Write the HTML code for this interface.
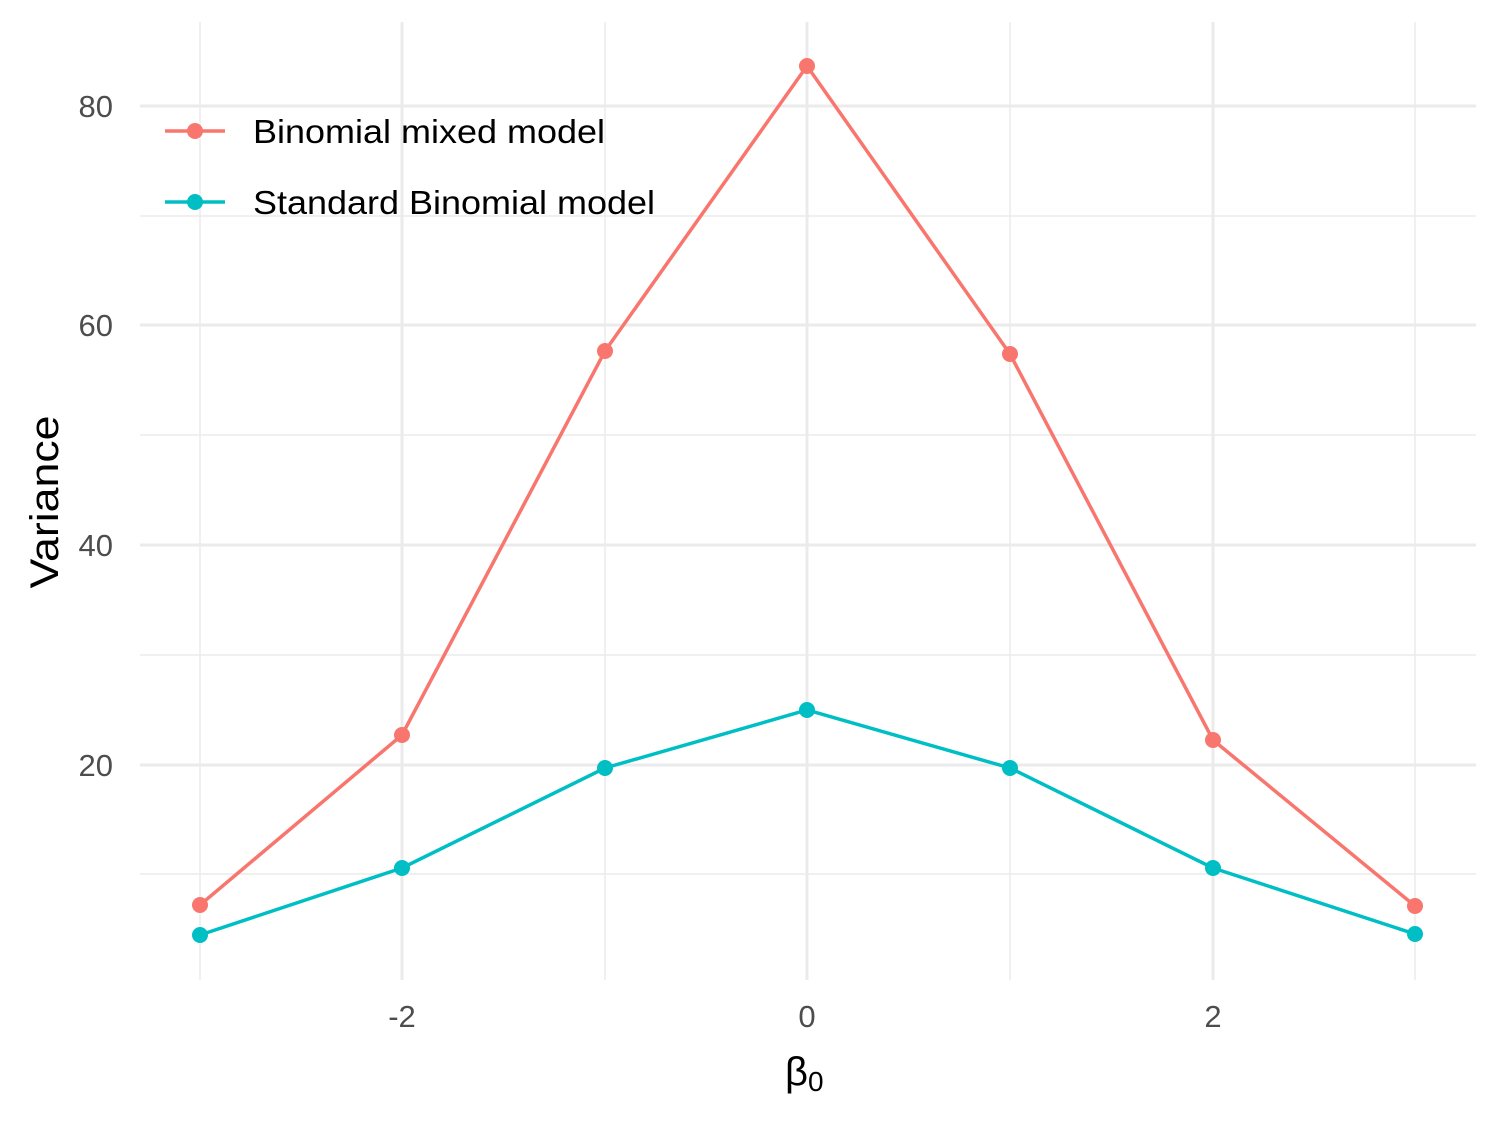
<!DOCTYPE html>
<html><head><meta charset="utf-8"><style>body{margin:0;background:#fff}</style></head><body>
<svg width="1500" height="1125" xmlns="http://www.w3.org/2000/svg" font-family="Liberation Sans, sans-serif">
<g stroke="#ebebeb" stroke-width="1.5">
<line x1="140" x2="1476" y1="216" y2="216"/><line x1="140" x2="1476" y1="435" y2="435"/>
<line x1="140" x2="1476" y1="655" y2="655"/><line x1="140" x2="1476" y1="874" y2="874"/>
<line x1="605" x2="605" y1="22" y2="980"/><line x1="1010" x2="1010" y1="22" y2="980"/>
<line x1="200" x2="200" y1="22" y2="980"/><line x1="1415" x2="1415" y1="22" y2="980"/>
</g>
<g stroke="#ebebeb" stroke-width="3">
<line x1="140" x2="1476" y1="106" y2="106"/><line x1="140" x2="1476" y1="325" y2="325"/>
<line x1="140" x2="1476" y1="545" y2="545"/><line x1="140" x2="1476" y1="765" y2="765"/>
<line x1="402" x2="402" y1="22" y2="980"/><line x1="807" x2="807" y1="22" y2="980"/><line x1="1213" x2="1213" y1="22" y2="980"/>
</g>
<polyline fill="none" stroke="#f8766d" stroke-width="3.5" points="200,905 402,735 605,351 807,66 1010,354 1213,740 1415,906"/>
<polyline fill="none" stroke="#00bfc4" stroke-width="3.5" points="200,935 402,868 605,768 807,710 1010,768 1213,868 1415,934"/>
<g fill="#f8766d"><circle cx="200" cy="905" r="8"/><circle cx="402" cy="735" r="8"/><circle cx="605" cy="351" r="8"/><circle cx="807" cy="66" r="8"/><circle cx="1010" cy="354" r="8"/><circle cx="1213" cy="740" r="8"/><circle cx="1415" cy="906" r="8"/></g>
<g fill="#00bfc4"><circle cx="200" cy="935" r="8"/><circle cx="402" cy="868" r="8"/><circle cx="605" cy="768" r="8"/><circle cx="807" cy="710" r="8"/><circle cx="1010" cy="768" r="8"/><circle cx="1213" cy="868" r="8"/><circle cx="1415" cy="934" r="8"/></g>
<g font-size="31" fill="#4d4d4d" text-anchor="end">
<text x="113" y="117">80</text><text x="113" y="336">60</text><text x="113" y="556">40</text><text x="113" y="776">20</text>
</g>
<g font-size="31" fill="#4d4d4d" text-anchor="middle">
<text x="402" y="1027">-2</text><text x="807" y="1027">0</text><text x="1213" y="1027">2</text>
</g>
<text x="785" y="1085" font-size="40">β<tspan font-size="28" dy="6">0</tspan></text>
<text transform="translate(58,502) rotate(-90)" font-size="40" text-anchor="middle" textLength="173" lengthAdjust="spacingAndGlyphs">Variance</text>
<line x1="165" x2="225" y1="131" y2="131" stroke="#f8766d" stroke-width="3.5"/><circle cx="195" cy="131" r="8" fill="#f8766d"/>
<line x1="165" x2="225" y1="202" y2="202" stroke="#00bfc4" stroke-width="3.5"/><circle cx="195" cy="202" r="8" fill="#00bfc4"/>
<text x="253" y="143" font-size="33" textLength="352" lengthAdjust="spacingAndGlyphs">Binomial mixed model</text>
<text x="253" y="214" font-size="33" textLength="402" lengthAdjust="spacingAndGlyphs">Standard Binomial model</text>
</svg>
</body></html>
